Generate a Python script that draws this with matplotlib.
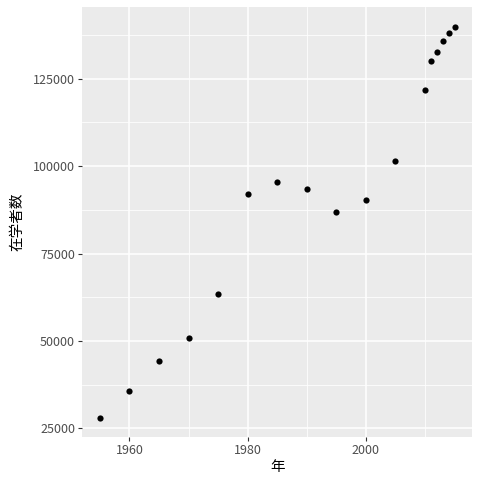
import matplotlib
matplotlib.use("Agg")
import matplotlib.pyplot as plt
from matplotlib.ticker import MultipleLocator

plt.rcParams['font.family'] = ['Noto Sans CJK JP', 'DejaVu Sans']

years = [1955, 1960, 1965, 1970, 1975, 1980, 1985, 1990, 1995, 2000,
         2005, 2010, 2011, 2012, 2013, 2014, 2015]
students = [28000, 35700, 44200, 50700, 63500, 91900, 95400, 93500, 86800, 90200,
            101600, 121800, 130000, 132600, 135700, 138000, 139900]

fig = plt.figure(figsize=(4.8, 4.8), dpi=100)
ax = fig.add_axes([0.171, 0.089, 0.813, 0.896])
ax.set_facecolor('#EBEBEB')

ax.scatter(years, students, s=20, color='black', zorder=3, linewidths=0)

xspan = max(years) - min(years)
yspan = max(students) - min(students)
ax.set_xlim(min(years) - 0.05 * xspan, max(years) + 0.05 * xspan)
ax.set_ylim(min(students) - 0.05 * yspan, max(students) + 0.05 * yspan)

ax.xaxis.set_major_locator(MultipleLocator(20))
ax.xaxis.set_minor_locator(MultipleLocator(10))
ax.yaxis.set_major_locator(MultipleLocator(25000))
ax.yaxis.set_minor_locator(MultipleLocator(12500))

ax.grid(which='major', color='white', linewidth=1.1)
ax.grid(which='minor', color='white', linewidth=0.55)
ax.set_axisbelow(True)

for s in ax.spines.values():
    s.set_visible(False)

ax.tick_params(which='major', length=3, width=0.8, color='#333333',
               labelsize=9, labelcolor='#4D4D4D', pad=2)
ax.tick_params(which='minor', length=0)

ax.set_xlabel('年', fontsize=10.5, color='black', labelpad=2)
ax.set_ylabel('在学者数', fontsize=10.5, color='black', labelpad=6)

fig.savefig('out.png', dpi=100)
